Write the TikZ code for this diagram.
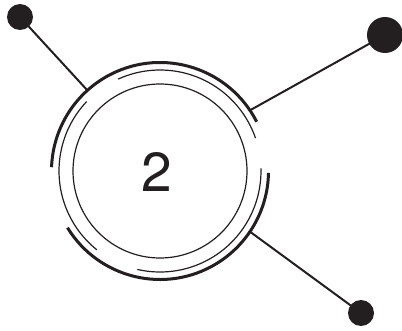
\documentclass[tikz,border=0pt]{standalone}
\usepackage{fontspec}
\setmainfont{TeX Gyre Heros}
\definecolor{ink}{HTML}{231F20}
\begin{document}
\begin{tikzpicture}[x=1pt,y=1pt,
  ring/.style={draw=ink, circle, line width=1.2pt, inner sep=0pt, minimum size=174pt},
  dotnode/.style={fill=ink, circle, inner sep=0pt},
  thinarc/.style={draw=ink, line width=1.2pt},
  thickarc/.style={draw=ink, line width=3pt},
  link/.style={draw=ink, line width=2pt}]
\useasboundingbox (0,0) rectangle (402,330);
\node[ring] (c) at (160,159) {};
\node[text=ink, font=\fontsize{55}{55}\selectfont] (num) at (157,158) {2};
% thin ring pieces
\path[thinarc] (c) ++(19:101) arc[start angle=19, end angle=114.5, radius=101];
\path[thinarc] (c) ++(136.6:101) arc[start angle=136.6, end angle=231.3, radius=101];
\path[thinarc] (c) ++(-103:101) arc[start angle=-103, end angle=1.5, radius=101];
% thick ring pieces
\path[thickarc] (c) ++(27:108.5) arc[start angle=27, end angle=178, radius=108.5];
\path[thickarc] (c) ++(-148.5:108.5) arc[start angle=-148.5, end angle=-1, radius=108.5];
% dots
\node[dotnode, minimum size=26pt] (d1) at (20,313) {};
\node[dotnode, minimum size=36pt] (d2) at (385,295) {};
\node[dotnode, minimum size=26pt] (d3) at (361,17) {};
% connector anchors on the outer ring
\path (c) ++(132:108.5) coordinate (p1);
\path (c) ++(34:108.5) coordinate (p2);
\path (c) ++(-34:108.5) coordinate (p3);
\draw[link] (p1) -- (d1.center);
\draw[link] (p2) -- (d2.center);
\draw[link] (p3) -- (d3.center);
\end{tikzpicture}
\end{document}
